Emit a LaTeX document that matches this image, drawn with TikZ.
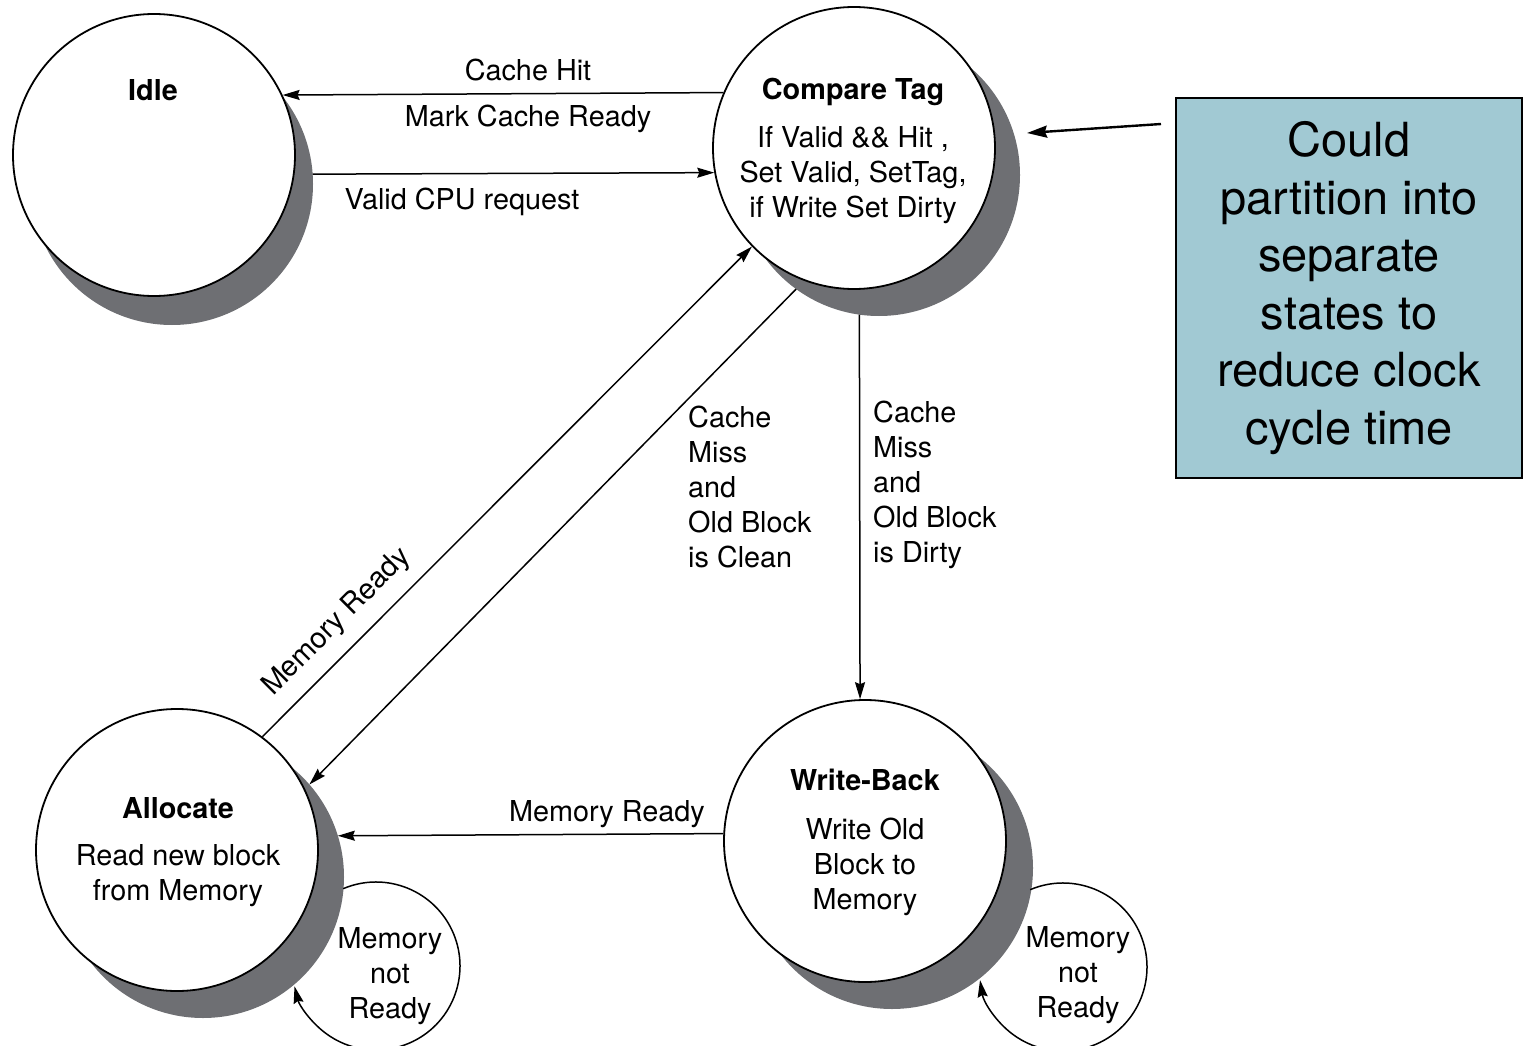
\documentclass[tikz,border=0pt]{standalone}
\usepackage{fontspec}
\setmainfont{TeX Gyre Heros}
\usetikzlibrary{arrows.meta}
\definecolor{shadowgray}{RGB}{110,111,115}
\definecolor{boxblue}{RGB}{161,201,211}
\begin{document}
\begin{tikzpicture}[x=1pt,y=-1pt,
  shadowc/.style={circle, minimum size=282pt, inner sep=0pt, outer sep=0pt, fill=shadowgray, draw=none},
  statec/.style={circle, minimum size=282pt, inner sep=0pt, fill=white, draw=black, line width=1.8pt},
  edge/.style={line width=1.5pt, -{Stealth[length=17pt,width=10pt,inset=2pt]}},
  ptr/.style={line width=2.4pt, -{Stealth[length=20pt,width=12pt,inset=2pt]}},
  lbl/.style={inner sep=0pt, font=\fontsize{28.8}{35}\selectfont, align=center},
  ttl/.style={inner sep=0pt, font=\fontsize{28.8}{35}\selectfont\bfseries},
  notebox/.style={draw=black, line width=2pt, fill=boxblue, minimum width=346pt, minimum height=380pt, inner sep=0pt, align=center, font=\fontsize{47}{57.6}\selectfont}
 ]
\useasboundingbox (0,0) rectangle (1524,1046);

% shadows
\node[shadowc] (idleS) at (172,184) {};
\node[shadowc] (ctS) at (879,175) {};
\node[shadowc] (allocS) at (203,877) {};
\node[shadowc] (wbS) at (892,868) {};

% states
\node[statec] (idle) at (154,155) {};
\node[statec] (ct) at (854,148) {};
\node[statec] (alloc) at (177,850) {};
\node[statec] (wb) at (865,841) {};

% transitions
\draw[edge] (ct.157.5) -- (idle.25.6);
\draw[edge] (idleS.4.5) -- (ct.190.2);
\draw[edge] (alloc.53) -- (ct.224.15);
\draw[edge] (ctS.234.5) -- (allocS.41);
\draw[edge] (ctS.262.25) -- (wb.92);
\draw[edge] (wb.177.6) -- (allocS.17.3);

% self loops
\coordinate (allocLoop) at (376,966);
\coordinate (wbLoop) at (1063,967);
\draw[edge] ([shift={(-113:84)}]allocLoop) arc[start angle=-113, end angle=166, radius=84];
\draw[edge] ([shift={(-113:84)}]wbLoop) arc[start angle=-113, end angle=171, radius=84];

% state texts
\node[ttl] (tIdle) at (153,90) {Idle};
\node[ttl] (tCT) at (853,92) {Compare Tag};
\node[lbl] (bCT) at (853,175) {If Valid \&\& Hit ,\\Set Valid, SetTag,\\if Write Set Dirty};
\node[ttl] (tAl) at (178,808) {Allocate};
\node[lbl] (bAl) at (178,876) {Read new block\\from Memory};
\node[ttl] (tWB) at (865,780) {Write-Back};
\node[lbl] (bWB) at (865,867) {Write Old\\Block to\\Memory};

% transition labels
\node[lbl] (lAlLoop) at (390,976) {Memory\\not\\Ready};
\node[lbl] (lWBLoop) at (1078,975) {Memory\\not\\Ready};
\node[lbl] (lHit) at (528,70) {Cache Hit};
\node[lbl] (lMark) at (528,119) {Mark Cache Ready};
\node[lbl] (lValid) at (462,202) {Valid CPU request};
\node[lbl, rotate=45] (lMR1) at (337,622) {Memory Ready};
\node[lbl] (lMR2) at (607,814) {Memory Ready};
\node[lbl, align=left, anchor=west] (lClean) at (688,487) {Cache\\Miss\\and\\Old Block\\is Clean};
\node[lbl, align=left, anchor=west] (lDirty) at (873,485) {Cache\\Miss\\and\\Old Block\\is Dirty};

% note box and pointer
\node[notebox] (note) at (1349,288) {Could\\partition into\\separate\\states to\\reduce clock\\cycle time};
\coordinate (ptrA) at (1161,124);
\coordinate (ptrB) at (1027,133);
\draw[ptr] (ptrA) -- (ptrB);
\end{tikzpicture}
\end{document}
